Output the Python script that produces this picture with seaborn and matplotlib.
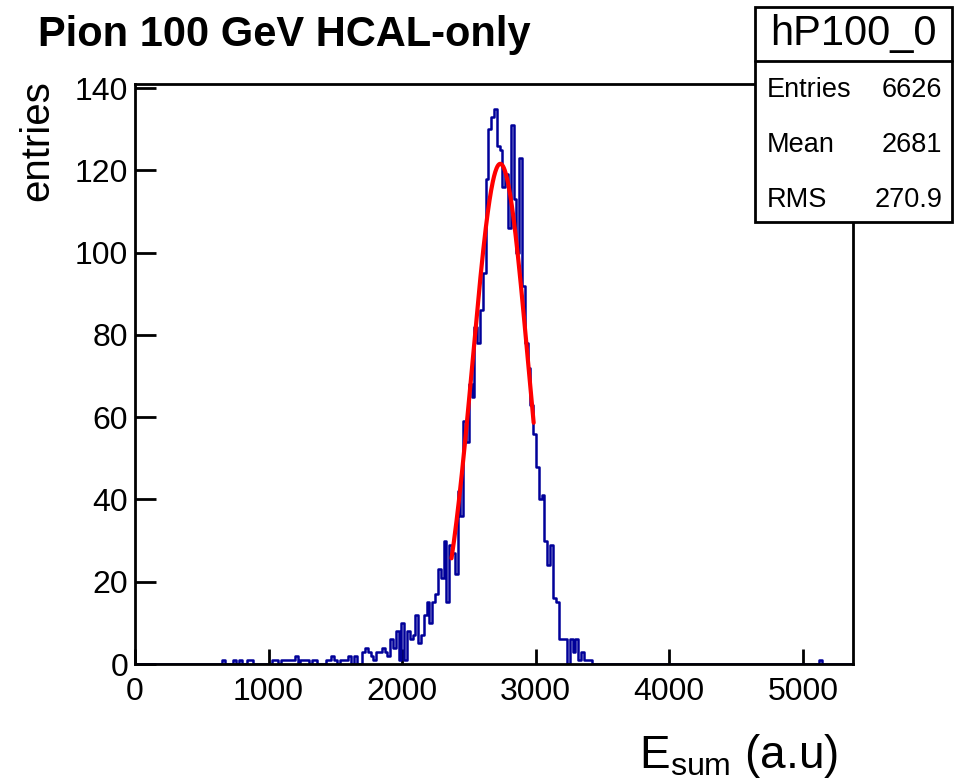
import numpy as np
import pandas as pd
import matplotlib
matplotlib.use("Agg")
import matplotlib.pyplot as plt
from matplotlib.patches import Rectangle
from matplotlib.lines import Line2D
import seaborn as sns

# ---------------- data ----------------
title = "Pion 100 GeV HCAL-only"
bin_width = 21
x_max = 5376
first_bin = 31
counts_main = [
    1, 0, 0, 0, 1, 0, 1, 0, 0, 1, 1, 0, 0, 0, 0, 0, 0, 0,          # bins 31-48
    1, 1, 0, 1, 1, 1, 1, 1, 2, 0, 1, 1, 1, 0, 1, 1, 0, 0, 0,       # bins 49-67
    1, 1, 2, 1, 0, 1, 1, 1,                                        # bins 68-75
    2, 0, 2, 0, 0, 3, 4, 3, 2, 1, 3, 3, 4, 3, 2, 6, 4, 8, 1, 10,   # bins 76-95
    1, 8, 6, 7, 12, 5, 7, 12, 15, 10, 15, 17, 23, 21, 30, 15,      # bins 96-111
    29, 27, 22, 42, 36, 59, 54, 68, 65, 82, 78, 86, 95,            # bins 112-124
    118, 130, 133, 135, 126, 125, 116, 119, 106, 131, 113, 100,    # bins 125-136
    123, 92, 78, 72, 63, 56, 48, 40, 41, 30, 24, 29, 16, 15,       # bins 137-150
    6, 6, 6, 0, 6, 3, 6, 1, 3, 1, 1, 1, 0,                         # bins 151-163
]
extra_bins = [244]
extra_counts = [1]

fit_amp = 121.6
fit_mean = 2735.0
fit_sigma = 207.0
fit_lo, fit_hi = 2370.0, 2985.0

stats_name = "hP100_0"
stats_labels = ["Entries", "Mean", "RMS"]
stats_values = ["6626", "2681", "270.9"]

x_ticks = [0, 1000, 2000, 3000, 4000, 5000]
y_ticks = [0, 20, 40, 60, 80, 100, 120, 140]
y_max = 141

# ---------------- figure ----------------
sns.set_theme(style="white")
plt.rcParams['font.family'] = ['Liberation Sans', 'DejaVu Sans']
plt.rcParams['mathtext.fontset'] = 'custom'
plt.rcParams['mathtext.rm'] = 'Liberation Sans'

W, H = 959, 784
fig = plt.figure(figsize=(W / 100, H / 100), dpi=100)
fig.patch.set_facecolor("white")

def fx(p):
    return p / W

def fy(p):
    return 1 - p / H

ax = fig.add_axes([fx(135), fy(664), fx(853) - fx(135), fy(84) - fy(664)])
ax.set_facecolor("white")

n_bins = x_max // bin_width
centers = np.arange(n_bins) * bin_width + bin_width / 2
weights = np.zeros(n_bins)
weights[first_bin:first_bin + len(counts_main)] = counts_main
for b, c in zip(extra_bins, extra_counts):
    weights[b] = c
df = pd.DataFrame({"E": centers, "n": weights})

sns.histplot(data=df, x="E", weights="n", binwidth=bin_width,
             binrange=(0, x_max), element="step",
             fill=False, color="#000099", linewidth=1.8, ax=ax)

xf = np.linspace(fit_lo, fit_hi, 200)
yf = fit_amp * np.exp(-0.5 * ((xf - fit_mean) / fit_sigma) ** 2)
sns.lineplot(x=xf, y=yf, color="#ff0000", linewidth=3.0, ax=ax)

ax.set_xlim(0, x_max)
ax.set_ylim(0, y_max)
ax.set_xticks(x_ticks)
ax.set_yticks(y_ticks)
ax.set_xlabel("")
ax.set_ylabel("")
for s in ax.spines.values():
    s.set_visible(True)
    s.set_color("black")
    s.set_linewidth(2.0)
ax.tick_params(axis="x", direction="in", length=11, width=2.0, labelsize=23,
               pad=9, colors="black", bottom=True, top=False)
ax.tick_params(axis="y", direction="in", length=15, width=2.0, labelsize=23,
               pad=5, colors="black", left=True, right=False)
ax.grid(False)

# title
fig.text(fx(38), fy(35), title, fontsize=30, fontweight="bold",
         ha="left", va="center", color="black")
# y axis title
fig.text(fx(37), fy(80), "entries", fontsize=29, rotation=90,
         ha="center", va="top", color="black")
# x axis title
fig.text(fx(838), fy(768), r"E$_{\mathregular{sum}}$ (a.u)", fontsize=33,
         ha="right", va="baseline", color="black")

# stats box
box = Rectangle((fx(755), fy(222)), fx(952) - fx(755), fy(7) - fy(222),
                transform=fig.transFigure, facecolor="white",
                edgecolor="black", linewidth=2.0, zorder=5)
fig.add_artist(box)
fig.add_artist(Line2D([fx(755), fx(952)], [fy(61), fy(61)],
                      transform=fig.transFigure, color="black",
                      linewidth=2.0, zorder=6))
fig.text(fx(853.5), fy(34), stats_name, fontsize=30, ha="center",
         va="center", color="black", zorder=7)
for i, (lab, val) in enumerate(zip(stats_labels, stats_values)):
    yy = fy(90 + 55 * i)
    fig.text(fx(767), yy, lab, fontsize=19.5, ha="left", va="center",
             color="black", zorder=7)
    fig.text(fx(942), yy, val, fontsize=19.5, ha="right", va="center",
             color="black", zorder=7)

fig.savefig("out.png", dpi=100, facecolor="white")
